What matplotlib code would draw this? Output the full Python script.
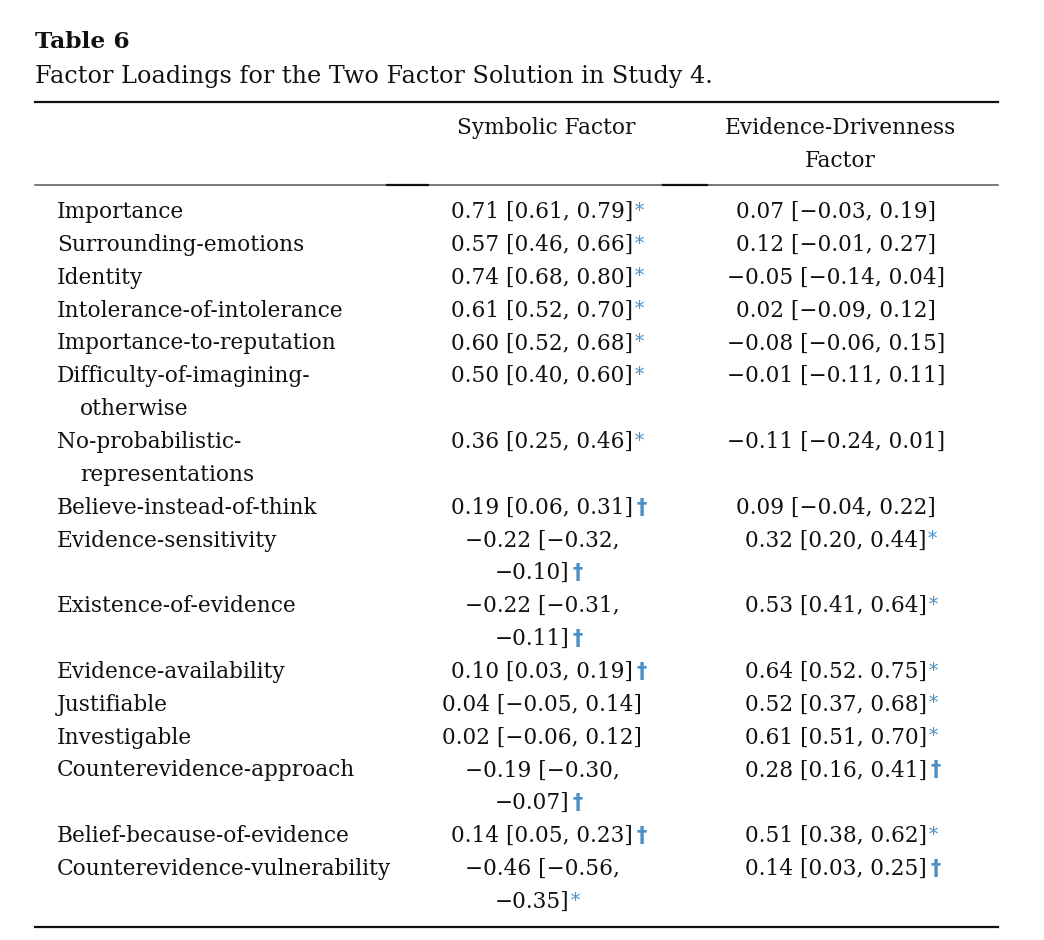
import textwrap

import matplotlib
matplotlib.use("Agg")
import matplotlib.pyplot as plt

W, H = 1044, 940
FONT = "DejaVu Serif"
BLUE = "#4a90c8"
INK = "#111111"

TITLE = "Table 6"
SUBTITLE = "Factor Loadings for the Two Factor Solution in Study 4."
col_heads = ["Symbolic Factor", "Evidence-Drivenness\nFactor"]

items = [
    "Importance",
    "Surrounding-emotions",
    "Identity",
    "Intolerance-of-intolerance",
    "Importance-to-reputation",
    "Difficulty-of-imagining-otherwise",
    "No-probabilistic-representations",
    "Believe-instead-of-think",
    "Evidence-sensitivity",
    "Existence-of-evidence",
    "Evidence-availability",
    "Justifiable",
    "Investigable",
    "Counterevidence-approach",
    "Belief-because-of-evidence",
    "Counterevidence-vulnerability",
]

# symbolic factor: loading, lower CI, upper CI, mark
sym_load = [0.71, 0.57, 0.74, 0.61, 0.60, 0.50, 0.36, 0.19,
            -0.22, -0.22, 0.10, 0.04, 0.02, -0.19, 0.14, -0.46]
sym_lo = [0.61, 0.46, 0.68, 0.52, 0.52, 0.40, 0.25, 0.06,
          -0.32, -0.31, 0.03, -0.05, -0.06, -0.30, 0.05, -0.56]
sym_hi = [0.79, 0.66, 0.80, 0.70, 0.68, 0.60, 0.46, 0.31,
          -0.10, -0.11, 0.19, 0.14, 0.12, -0.07, 0.23, -0.35]
sym_mark = ["*", "*", "*", "*", "*", "*", "*", "\u2020",
            "\u2020", "\u2020", "\u2020", "", "", "\u2020", "\u2020", "*"]

# evidence-drivenness factor
evd_load = [0.07, 0.12, -0.05, 0.02, -0.08, -0.01, -0.11, 0.09,
            0.32, 0.53, 0.64, 0.52, 0.61, 0.28, 0.51, 0.14]
evd_lo = [-0.03, -0.01, -0.14, -0.09, -0.06, -0.11, -0.24, -0.04,
          0.20, 0.41, 0.52, 0.37, 0.51, 0.16, 0.38, 0.03]
evd_hi = [0.19, 0.27, 0.04, 0.12, 0.15, 0.11, 0.01, 0.22,
          0.44, 0.64, 0.75, 0.68, 0.70, 0.41, 0.62, 0.25]
evd_mark = ["", "", "", "", "", "", "", "",
            "*", "*", "*", "*", "*", "\u2020", "*", "\u2020"]

# the source typesets "0.64 [0.52. 0.75]" with a full stop
evd_sep = [", "] * 10 + [". "] + [", "] * 5


def num(v):
    return f"{v:.2f}".replace("-", "\u2212")


def cell(load, lo, hi, sep=", "):
    return f"{num(load)} [{num(lo)}{sep}{num(hi)}]"


def put_cell(ax, x, y, txt, mark, lh):
    lines = txt.split("\n")
    arts = []
    for k, ln in enumerate(lines):
        xx = x if k == 0 else x - 10
        t = ax.text(xx, y + k * lh, ln, ha="center", va="center",
                    fontsize=FS, family=FONT, color=INK)
        arts.append(t)
    if mark == "*":
        ax.annotate("*", xy=(1, 1), xycoords=arts[-1], xytext=(1, -0.5),
                    textcoords="offset points", ha="left", va="top",
                    fontsize=FS * 0.85, family=FONT, color=BLUE)
    elif mark:
        ax.annotate(mark, xy=(1, 0.5), xycoords=arts[-1], xytext=(2.5, 0),
                    textcoords="offset points", ha="left", va="center",
                    fontsize=FS * 0.95, family="DejaVu Sans", color=BLUE,
                    fontweight="bold")


FS = 15.6
fig = plt.figure(figsize=(W / 100, H / 100), dpi=100)
ax = fig.add_axes([0, 0, 1, 1])
ax.set_xlim(0, W)
ax.set_ylim(H, 0)
ax.axis("off")

ax.text(35, 42, TITLE, fontsize=16.8, fontweight="bold", family=FONT,
        va="center", ha="left", color=INK)
ax.text(35, 77, SUBTITLE, fontsize=17.2, family=FONT, va="center",
        ha="left", color=INK)

x0, x1 = 35, 998
ax.plot([x0, x1], [102, 102], color=INK, lw=1.6)
ax.plot([x0, x1], [185, 185], color="#555555", lw=1.1)
for a, b in [(387, 428), (663, 707)]:
    ax.plot([a, b], [185, 185], color=INK, lw=1.6)
ax.plot([x0, x1], [927, 927], color=INK, lw=1.6)

cx = [546, 840]
lh = 32.85
ax.text(cx[0], 128, col_heads[0], ha="center", va="center", fontsize=FS,
        family=FONT, color=INK)
for k, ln in enumerate(col_heads[1].split("\n")):
    ax.text(cx[1], 128 + k * lh, ln, ha="center", va="center", fontsize=FS,
            family=FONT, color=INK)

y = 212
for i, name in enumerate(items):
    lab = textwrap.wrap(name, width=29, break_on_hyphens=True)
    c1 = textwrap.fill(cell(sym_load[i], sym_lo[i], sym_hi[i]), width=19)
    c2 = textwrap.fill(cell(evd_load[i], evd_lo[i], evd_hi[i], evd_sep[i]),
                       width=21)
    for k, ln in enumerate(lab):
        ax.text(57 if k == 0 else 80, y + k * lh, ln, ha="left", va="center",
                fontsize=FS, family=FONT, color=INK)
    put_cell(ax, cx[0] - 4, y, c1, sym_mark[i], lh)
    put_cell(ax, cx[1] - 4, y, c2, evd_mark[i], lh)
    nlines = max(len(lab), c1.count("\n") + 1, c2.count("\n") + 1)
    y += nlines * lh

fig.savefig("out.png", dpi=100, facecolor="white")
